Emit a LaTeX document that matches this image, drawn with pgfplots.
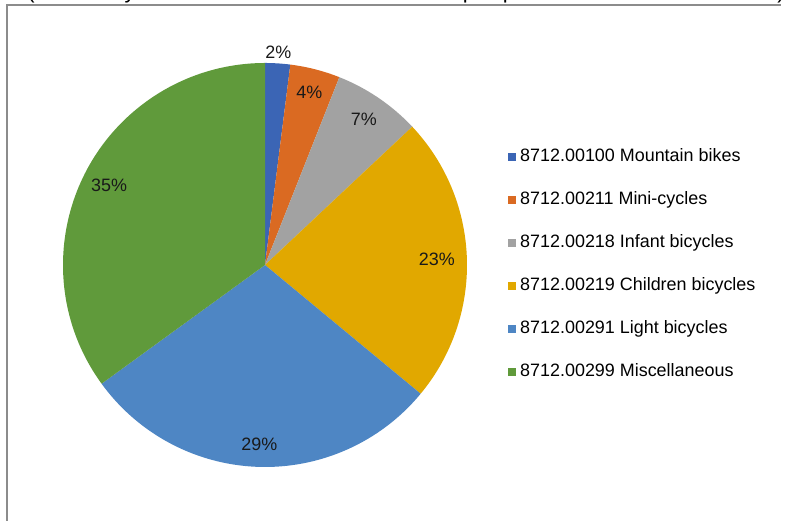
\documentclass[border=0pt]{standalone}
\usepackage{pgfplots}
\usepackage{pgfplotstable}
\pgfplotsset{compat=1.18}
\usepackage{fontspec}
\setmainfont{Liberation Sans}
\definecolor{c1}{HTML}{3B65B5}
\definecolor{c2}{HTML}{DA6A22}
\definecolor{c3}{HTML}{A2A2A2}
\definecolor{c4}{HTML}{E1A800}
\definecolor{c5}{HTML}{4E86C4}
\definecolor{c6}{HTML}{609A3B}
\definecolor{framegray}{HTML}{8C8C8C}
\pgfplotstableread[col sep=comma]{
value,color,labelr,label
2,c1,213,8712.00100 Mountain bikes
4,c2,178,8712.00211 Mini-cycles
7,c3,176,8712.00218 Infant bicycles
23,c4,172,8712.00219 Children bicycles
29,c5,179,8712.00291 Light bicycles
35,c6,175,8712.00299 Miscellaneous
}\piedata
\begin{document}
\begin{tikzpicture}
\begin{axis}[
  name=ax,
  width=789bp, height=521bp, scale only axis,
  xmin=0, xmax=789, ymin=0, ymax=521,
  hide axis, clip=false,
  legend style={draw=none, fill=none, at={(axis cs:505,256.5)}, anchor=west,
    font=\fontsize{18}{21}\selectfont, row sep=27.5bp,
    nodes={inner sep=0pt, text height=12bp, text depth=3.5bp}},
  legend cell align=left,
  legend image code/.code={\fill[#1, draw=none] (0bp,-4bp) rectangle (8bp,4bp); \path (12bp,0bp);},
]
\def\cum{0}
\pgfplotsforeachungrouped \i in {0,...,5}{%
  \pgfplotstablegetelem{\i}{value}\of\piedata \let\v\pgfplotsretval
  \pgfplotstablegetelem{\i}{color}\of\piedata \let\c\pgfplotsretval
  \pgfplotstablegetelem{\i}{labelr}\of\piedata \let\lr\pgfplotsretval
  \pgfplotstablegetelem{\i}{label}\of\piedata \let\lab\pgfplotsretval
  \pgfmathsetmacro\a{90-3.6*\cum}%
  \pgfmathsetmacro\b{90-3.6*(\cum+\v)}%
  \pgfmathsetmacro\m{(\a+\b)/2}%
  \pgfmathsetmacro\lx{265+\lr*cos(\m)}%
  \pgfmathsetmacro\ly{256+\lr*sin(\m)}%
  \edef\temp{%
    \noexpand\fill[\c] (axis cs:265,256) -- ++(\a:202bp) arc[start angle=\a, end angle=\b, radius=202bp] -- cycle;
    \noexpand\node[font=\noexpand\fontsize{18}{21}\noexpand\selectfont, text=black!90] at (axis cs:\lx,\ly) {\v\noexpand\%};
    \noexpand\addlegendimage{fill=\c, draw=none}
    \noexpand\addlegendentry{\lab}
  }\temp
  \pgfmathsetmacro\cum{\cum+\v}%
}
\end{axis}
\begin{scope}[shift={(ax.south west)}, x=1bp, y=1bp]
  \draw[framegray, line width=1.5bp] (7,0) -- (7,516) -- (781,516);
  \begin{scope}
    \clip (0,517) rectangle (789,521);
    \node[anchor=base, inner sep=0pt, font=\fontsize{22}{24}\selectfont] at (31,522) {(};
    \node[anchor=base, inner sep=0pt, font=\fontsize{22}{24}\selectfont] at (130,522) {y};
    \node[anchor=base, inner sep=0pt, font=\fontsize{22}{24}\selectfont] at (469,522) {p};
    \node[anchor=base, inner sep=0pt, font=\fontsize{22}{24}\selectfont] at (509,522) {p};
    \node[anchor=base, inner sep=0pt, font=\fontsize{22}{24}\selectfont] at (781,522) {)};
  \end{scope}
  \pgfresetboundingbox
  \useasboundingbox (0,0) rectangle (789,521);
\end{scope}
\end{tikzpicture}
\end{document}
